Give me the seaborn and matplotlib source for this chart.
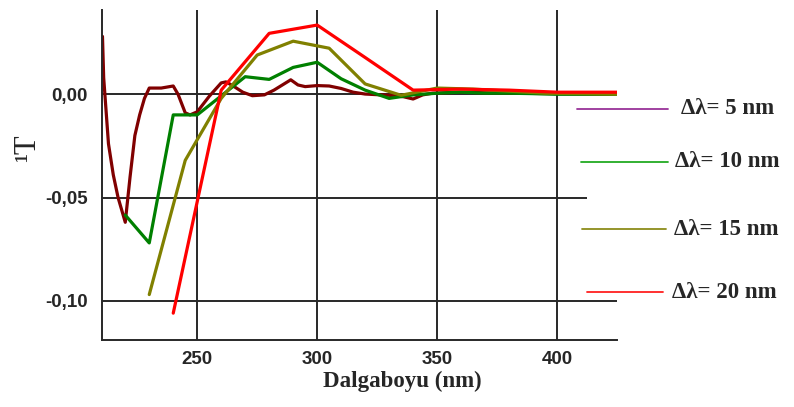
import matplotlib
matplotlib.use("Agg")
import matplotlib.pyplot as plt
from matplotlib.lines import Line2D
from matplotlib.patches import Rectangle
import seaborn as sns
import pandas as pd

# First-derivative transmittance spectra for four wavelength intervals
wl_5 = [210.5, 211, 213, 215, 217, 220, 222, 224, 226, 228, 230, 235, 240, 242,
        245, 247, 250, 255, 260, 262, 265, 269, 273, 278, 282, 289, 292, 295,
        300, 305, 310, 315, 320, 330, 336, 340, 344, 348, 360, 380, 400, 425]
t_5 = [0.028, 0.008, -0.024, -0.039, -0.050, -0.062, -0.040, -0.020, -0.010,
       -0.002, 0.003, 0.003, 0.004, 0.000, -0.009, -0.010, -0.0085, -0.001,
       0.0055, 0.006, 0.004, 0.001, -0.0007, -0.0003, 0.002, 0.007, 0.0045,
       0.0037, 0.0042, 0.004, 0.0028, 0.001, 0.0001, -0.0005, -0.0012, -0.0023,
       -0.0003, 0.0005, 0.001, 0.0005, 0.0003, 0.0]

wl_10 = [220, 230, 240, 250, 260, 270, 280, 290, 300, 310, 320, 330, 340, 350,
         360, 370, 380, 390, 400, 410, 420, 430]
t_10 = [-0.0585, -0.072, -0.010, -0.010, -0.0008, 0.0085, 0.0072, 0.013, 0.0155,
        0.0075, 0.002, -0.002, -0.0003, 0.0005, 0.001, 0.0005, 0.0005, 0.0003,
        0.0, 0.0, 0.0, 0.0]

wl_15 = [230, 245, 260, 275, 290, 305, 320, 335, 350, 365, 380, 395, 410, 425]
t_15 = [-0.097, -0.032, -0.002, 0.019, 0.0257, 0.0223, 0.005, -0.0005, 0.003,
        0.0025, 0.0015, 0.0005, 0.0003, 0.0]

wl_20 = [240, 260, 280, 300, 320, 340, 360, 380, 400, 420, 440]
t_20 = [-0.106, 0.002, 0.0295, 0.0335, 0.0178, 0.002, 0.0025, 0.002, 0.001,
        0.001, 0.001]

series_labels = ["Δλ= 5 nm", "Δλ= 10 nm", "Δλ= 15 nm", "Δλ= 20 nm"]
line_colors = ["#800000", "#008000", "#808000", "#ff0000"]
legend_colors = ["#993399", "#22aa22", "#8c8c1a", "#ff2020"]

x_ticks = [250, 300, 350, 400]
y_ticks = [0.0, -0.05, -0.10]
y_tick_labels = ["0,00", "-0,05", "-0,10"]

frames = []
for lab, wl, t in zip(series_labels, [wl_5, wl_10, wl_15, wl_20], [t_5, t_10, t_15, t_20]):
    frames.append(pd.DataFrame({"wl": wl, "t": t, "series": lab}))
df = pd.concat(frames, ignore_index=True)

sns.set_style("white")
plt.rcParams["font.family"] = ["Liberation Sans", "DejaVu Sans"]

W, H = 794, 407
fig = plt.figure(figsize=(W / 100, H / 100), dpi=100)
ax = fig.add_axes([102 / W, 1 - 340 / H, (617 - 102) / W, (340 - 10) / H])

ax.grid(True, color="#282828", linewidth=1.4)
ax.set_axisbelow(True)

sns.lineplot(data=df, x="wl", y="t", hue="series", hue_order=series_labels,
             palette=line_colors, estimator=None, sort=False, linewidth=2.3,
             legend=False, ax=ax)

ax.set_xlim(210.3, 425)
ax.set_ylim(-0.119, 0.0408)
ax.set_xticks(x_ticks)
ax.set_xticklabels([str(v) for v in x_ticks], fontsize=13.5, fontweight="bold")
ax.set_yticks(y_ticks)
ax.set_yticklabels(y_tick_labels, fontsize=13.5, fontweight="bold")
ax.tick_params(axis="y", direction="out", length=7, width=1.3, color="#282828", pad=3)
ax.tick_params(axis="x", direction="out", length=6, width=1.3, color="#282828", pad=2)
ax.set_xlabel("")
ax.set_ylabel("")

for side in ["top", "right"]:
    ax.spines[side].set_visible(False)
for side in ["left", "bottom"]:
    ax.spines[side].set_color("#282828")
    ax.spines[side].set_linewidth(1.4)

serif = ["Liberation Serif", "DejaVu Serif"]

# axis titles
fig.text(402 / W, 1 - 381 / H, "Dalgaboyu (nm)", ha="center", va="center",
         fontsize=16.5, fontweight="bold", family=serif)
fig.text(28 / W, 1 - 148 / H, "¹T", ha="center", va="center", rotation=90,
         fontsize=22, family=serif)

# legend panel
fig.add_artist(Rectangle((587 / W, 1 - 270 / H), (W - 587) / W, 140 / H,
                         transform=fig.transFigure, facecolor="white",
                         edgecolor="none", zorder=3))
legend_rows = [(109, 577, 668, 681), (161.7, 581, 668, 675),
               (229, 582, 666, 674), (292, 587, 663, 672)]
for (yy, x0, x1, xt), lab, col in zip(legend_rows, series_labels, legend_colors):
    fig.add_artist(Line2D([x0 / W, x1 / W], [1 - yy / H, 1 - yy / H],
                          transform=fig.transFigure, color=col, linewidth=1.3, zorder=4))
    fig.text(xt / W, 1 - yy / H, lab, ha="left", va="center", fontsize=16.5,
             fontweight="bold", family=serif, zorder=5)

fig.savefig("out.png", dpi=100)
